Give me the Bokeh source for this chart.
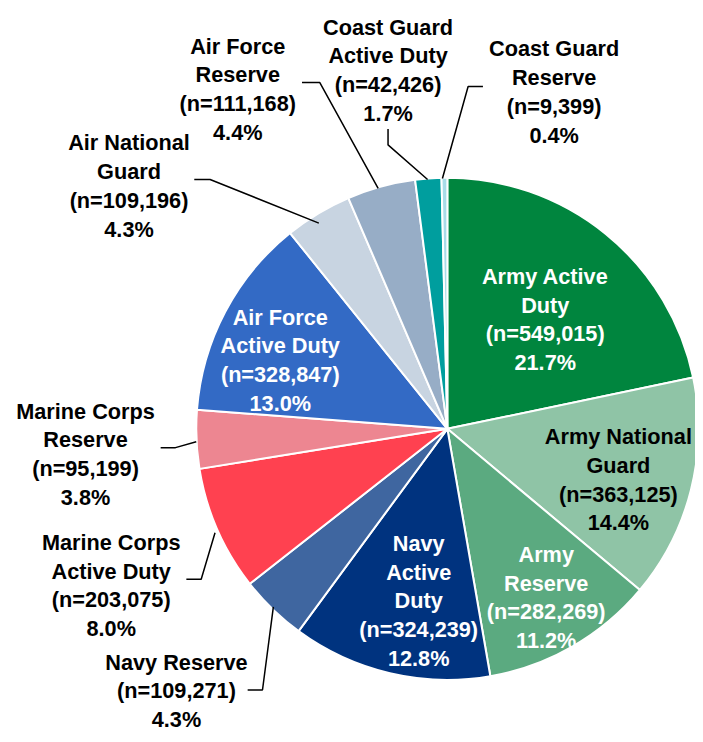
import math
from bokeh.plotting import figure
from bokeh.models import Range1d, ColumnDataSource
from bokeh.embed import file_html
from bokeh.resources import INLINE
from bokeh.core.properties import value

# ---------------- data ----------------
names = ["Army Active Duty", "Army National Guard", "Army Reserve", "Navy Active Duty",
         "Navy Reserve", "Marine Corps Active Duty", "Marine Corps Reserve",
         "Air Force Active Duty", "Air National Guard", "Air Force Reserve",
         "Coast Guard Active Duty", "Coast Guard Reserve"]
name_lines = ["Army Active\nDuty", "Army National\nGuard", "Army\nReserve", "Navy\nActive\nDuty",
              "Navy Reserve", "Marine Corps\nActive Duty", "Marine Corps\nReserve",
              "Air Force\nActive Duty", "Air National\nGuard", "Air Force\nReserve",
              "Coast Guard\nActive Duty", "Coast Guard\nReserve"]
counts = [549015, 363125, 282269, 324239, 109271, 203075, 95199, 328847, 109196, 111168, 42426, 9399]
pcts = [21.7, 14.4, 11.2, 12.8, 4.3, 8.0, 3.8, 13.0, 4.3, 4.4, 1.7, 0.4]

# ---------------- styles / layout ----------------
colors = ["#00853E", "#8FC4A6", "#5BAA80", "#00337F", "#3F66A0", "#FF4150", "#ED8691",
          "#336AC5", "#C8D4E1", "#97ADC6", "#009E9E", "#A8DCE8"]
text_colors = ["white", "black", "white", "white", "black", "black", "black",
               "white", "black", "black", "black", "black"]
# label anchor: centre x, first baseline y (reference layout units, top-left origin)
label_pos = [(551, 279), (625, 441), (552, 560), (423, 549), (178, 669), (112, 548),
             (86, 415), (283, 320), (130, 144), (240, 46), (392, 27), (560, 49)]
leaders = {
    "Coast Guard Active Duty": [(392, 130), (392, 146), (432, 181)],
    "Coast Guard Reserve": [(488, 87), (473, 87), (447, 180)],
    "Air Force Reserve": [(305, 83), (323, 83), (382, 190)],
    "Air National Guard": [(196, 181), (212, 181), (322, 225)],
    "Marine Corps Reserve": [(162, 452), (177, 452), (198, 446)],
    "Marine Corps Active Duty": [(188, 585), (203, 585), (217, 538)],
    "Navy Reserve": [(250, 697), (265, 697), (276, 613)],
}
CX, CY, R = 452, 433, 254
LINE_STEP = 29
FONT = "Liberation Sans"
FSIZE = "21.7px"

# layout units span 703 x 742; the figure itself fits inside the window's 8px margin
UW, UH = 703, 742
W, H = 695, 734


def Y(y):
    return UH - y


p = figure(width=W, height=H, x_range=Range1d(0, UW), y_range=Range1d(0, UH),
           output_backend="svg", toolbar_location=None, min_border=0)
p.axis.visible = False
p.grid.visible = False
p.outline_line_color = None
p.background_fill_color = "white"

total = sum(counts)
starts, ends = [], []
cum = 0.0
for c in counts:
    starts.append(math.pi / 2 - 2 * math.pi * cum / total)
    cum += c
    ends.append(math.pi / 2 - 2 * math.pi * cum / total)

src = ColumnDataSource(dict(x=[CX] * len(counts), y=[Y(CY)] * len(counts),
                            start=starts, end=ends, color=colors))
p.wedge(x="x", y="y", radius=R, start_angle="start", end_angle="end", direction="clock",
        fill_color="color", line_color="white", line_width=2, source=src)

# leader lines
for nm, pts in leaders.items():
    p.line([q[0] for q in pts], [Y(q[1]) for q in pts], line_color="black", line_width=1.5)

# labels
tx, ty, tt, tc = [], [], [], []
for i, nm in enumerate(names):
    lines = name_lines[i].split("\n") + ["(n={:,})".format(counts[i]), "{:.1f}%".format(pcts[i])]
    x0, y0 = label_pos[i]
    for k, ln in enumerate(lines):
        tx.append(x0)
        ty.append(Y(y0 + k * LINE_STEP))
        tt.append(ln)
        tc.append(text_colors[i])

tsrc = ColumnDataSource(dict(x=tx, y=ty, text=tt, color=tc))
p.text(x="x", y="y", text="text", text_color="color", source=tsrc,
       text_font=value(FONT), text_font_style="bold", text_font_size=FSIZE,
       text_align="center", text_baseline="alphabetic")

open("out.html", "w").write(file_html(p, INLINE))
